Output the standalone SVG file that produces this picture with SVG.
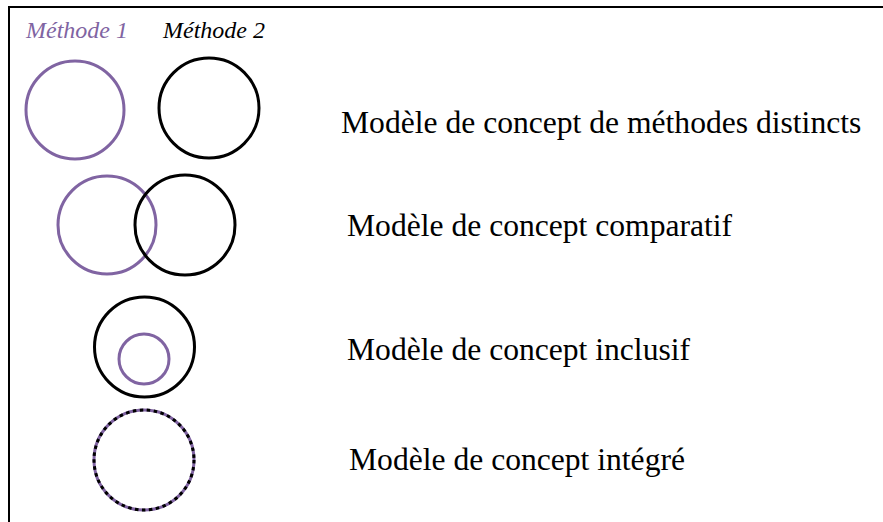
<svg xmlns="http://www.w3.org/2000/svg" width="883" height="522" viewBox="0 0 883 522">
<style>
.lbl{font-family:"Liberation Serif","Times New Roman",serif;font-size:31.6px;fill:#000}
.meth{font-family:"Liberation Serif","Times New Roman",serif;font-size:24px;font-style:italic}
.p{fill:none;stroke:#8064a2;stroke-width:3}
.k{fill:none;stroke:#000;stroke-width:3}
</style>
<rect width="883" height="522" fill="#fff"/>
<g id="frame"><path d="M9,522 V7 H883" fill="none" stroke="#000" stroke-width="2"/></g>
<g id="legend">
<text class="meth" x="26" y="38" fill="#8064a2">Méthode 1</text>
<text class="meth" x="163" y="38" fill="#000">Méthode 2</text>
</g>
<g id="distincts">
<circle class="p" cx="75" cy="110" r="49"/>
<circle class="k" cx="209" cy="108" r="50"/>
<text class="lbl" x="341" y="133">Modèle de concept de méthodes distincts</text>
</g>
<g id="comparatif">
<circle class="p" cx="107" cy="225" r="49"/>
<circle class="k" cx="185" cy="225" r="50"/>
<text class="lbl" x="347" y="236">Modèle de concept comparatif</text>
</g>
<g id="inclusif">
<circle class="k" cx="144.5" cy="347" r="50"/>
<circle class="p" cx="144" cy="359" r="25"/>
<text class="lbl" x="347" y="360">Modèle de concept inclusif</text>
</g>
<g id="integre">
<circle class="p" cx="144" cy="460" r="50"/>
<circle cx="144" cy="460" r="50" fill="none" stroke="#000" stroke-width="3" stroke-dasharray="3.5 3.5"/>
<text class="lbl" x="349" y="470">Modèle de concept intégré</text>
</g>
<g id="connectors"/>
</svg>
